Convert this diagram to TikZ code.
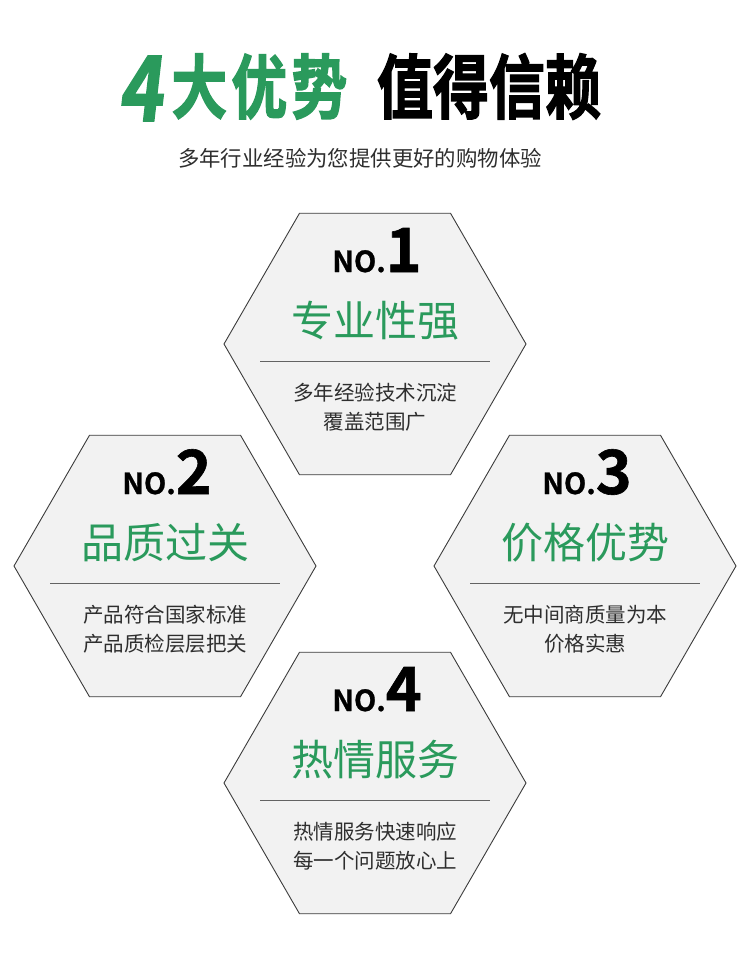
\documentclass[tikz,border=0pt]{standalone}
\usepackage{fontspec}
\setmainfont{Noto Sans CJK SC}
\newfontfamily\headfont{Noto Sans CJK SC}[UprightFont=* Bold,FakeBold=2]
\newfontfamily\headslant{Noto Sans CJK SC}[UprightFont=* Bold,FakeBold=2,FakeSlant=0.14]
\newfontfamily\numfont{Noto Sans CJK SC}[UprightFont=* Bold,FakeBold=1]
\usetikzlibrary{shapes.geometric}

\definecolor{advgreen}{HTML}{2A9A5C}
\definecolor{hexfill}{HTML}{F2F2F2}
\definecolor{hexline}{HTML}{3C3C3C}
\definecolor{textgray}{HTML}{2E2E2E}

\newcommand\headtext[1]{\scalebox{1}[1.25]{\fontsize{56}{56}\selectfont\headfont #1}}

\begin{document}
\begin{tikzpicture}[x=1pt,y=-1pt,
  hexa/.style={regular polygon, regular polygon sides=6, minimum size=302pt, inner sep=0pt,
    draw=hexline, fill=hexfill, line width=0.9pt},
  numlabel/.style={anchor=base, inner sep=0pt, text=black},
  advtitle/.style={inner sep=0pt, text=advgreen, font=\fontsize{42}{42}\selectfont},
  advtext/.style={inner sep=0pt, text=textgray, font=\fontsize{20.5}{20.5}\selectfont},
  sepline/.style={draw=hexline!80, line width=0.8pt},
]
\useasboundingbox[fill=white] (0,0) rectangle (750,967);

% heading
\node[anchor=base, inner sep=0pt, text=advgreen] (headleft) at (233,113)
  {\raisebox{-8pt}{\scalebox{1}[1.22]{\fontsize{74}{74}\selectfont\headslant 4}}\hspace{9pt}\headtext{大\hspace{4pt}优\hspace{4pt}势}};
\node[anchor=base, inner sep=0pt, text=black] (headright) at (489,113)
  {\headtext{值得信赖}};
\node[inner sep=0pt, text=textgray, font=\fontsize{21.4}{21.4}\selectfont] (subhead) at (360,158)
  {多年行业经验为您提供更好的购物体验};

% four hexagons
\foreach \cx/\cy/\n/\title/\lineA/\lineB in {
    375/344/1/专业性强/多年经验技术沉淀/覆盖范围广,
    165/566/2/品质过关/产品符合国家标准/产品质检层层把关,
    585/566/3/价格优势/无中间商质量为本/价格实惠,
    375/783/4/热情服务/热情服务快速响应/每一个问题放心上}
{
  \node[hexa] (hex\n) at (\cx,\cy) {};
  \node[numlabel] (no\n) at (\cx+2,\cy-72)
    {\numfont\fontsize{29}{29}\selectfont NO.\fontsize{61}{61}\selectfont\n};
  \node[advtitle] (title\n) at (\cx,\cy-23) {\title};
  \coordinate (sepL\n) at (\cx-115,\cy+17);
  \coordinate (sepR\n) at (\cx+115,\cy+17);
  \draw[sepline] (sepL\n) -- (sepR\n);
  \node[advtext] (textA\n) at (\cx,\cy+49) {\lineA};
  \node[advtext] (textB\n) at (\cx,\cy+78) {\lineB};
}

\end{tikzpicture}
\end{document}
